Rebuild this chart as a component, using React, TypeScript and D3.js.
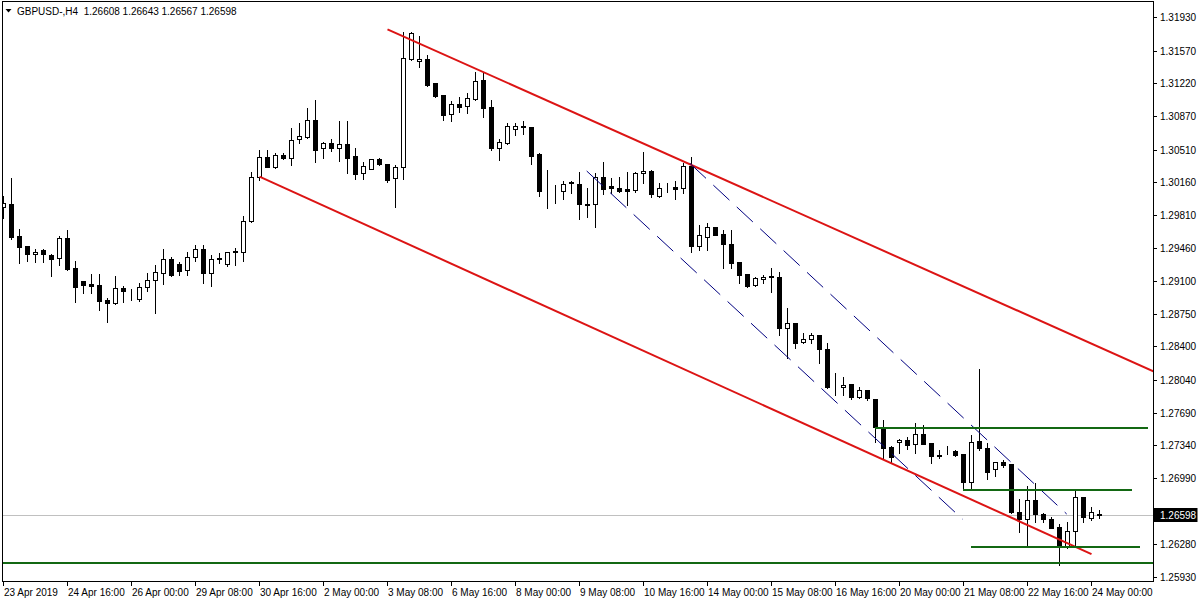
import React, { useEffect, useRef } from "react";
import * as d3 from "d3";

// GBPUSD H4 candles
const opens = [
  1.29891, 1.29926, 1.29584, 1.29473, 1.29387, 1.29434, 1.29380, 1.29345, 1.29562, 1.29241,
  1.29101, 1.29066, 1.29059, 1.28898, 1.28869, 1.29026, 1.28916, 1.28912, 1.29034, 1.29109,
  1.29184, 1.29337, 1.29280, 1.29216, 1.29362, 1.29444, 1.29184, 1.29348, 1.29287, 1.29423,
  1.29415, 1.29739, 1.30219, 1.30427, 1.30320, 1.30451, 1.30416, 1.30620, 1.30641, 1.30826,
  1.30530, 1.30577, 1.30530, 1.30569, 1.30441, 1.30255, 1.30298, 1.30405, 1.30355, 1.30202,
  1.30320, 1.31480, 1.31458, 1.31480, 1.31220, 1.31094, 1.30887, 1.30995, 1.30980, 1.31051,
  1.31255, 1.30962, 1.30530, 1.30583, 1.30727, 1.30762, 1.30748, 1.30462, 1.30076, 1.30076,
  1.30069, 1.30155, 1.30141, 1.29923, 1.29923, 1.30219, 1.30122, 1.30095, 1.30084, 1.30076,
  1.30255, 1.30280, 1.30015, 1.30095, 1.30105, 1.30101, 1.30334, 1.29476, 1.29576, 1.29677,
  1.29605, 1.29498, 1.29302, 1.29176, 1.29059, 1.29120, 1.29147, 1.29147, 1.28595, 1.28648,
  1.28451, 1.28477, 1.28523, 1.28370, 1.27969, 1.27963, 1.27995, 1.27855, 1.27934, 1.27834,
  1.27523, 1.27320, 1.27376, 1.27398, 1.27352, 1.27462, 1.27362, 1.27230, 1.27288, 1.27280,
  1.27248, 1.26951, 1.27387, 1.27309, 1.27084, 1.27162, 1.27138, 1.26630, 1.26555, 1.26755,
  1.26605, 1.26555, 1.26463, 1.26255, 1.26426, 1.26784, 1.26559, 1.26608
];
const highs = [
  1.30012, 1.30202, 1.29659, 1.29473, 1.29441, 1.29447, 1.29387, 1.29584, 1.29648, 1.29316,
  1.29101, 1.29176, 1.29176, 1.28916, 1.29155, 1.29048, 1.29012, 1.29077, 1.29184, 1.29273,
  1.29444, 1.29355, 1.29305, 1.29409, 1.29487, 1.29487, 1.29377, 1.29405, 1.29415, 1.29452,
  1.29798, 1.30264, 1.30505, 1.30505, 1.30473, 1.30470, 1.30737, 1.30791, 1.30952, 1.31041,
  1.30594, 1.30623, 1.30816, 1.30816, 1.30530, 1.30380, 1.30405, 1.30422, 1.30355, 1.30344,
  1.31772, 1.31772, 1.31726, 1.31523, 1.31220, 1.31094, 1.31030, 1.31070, 1.31112, 1.31344,
  1.31344, 1.31041, 1.30623, 1.30791, 1.30791, 1.30816, 1.30748, 1.30473, 1.30291, 1.30130,
  1.30173, 1.30173, 1.30266, 1.30095, 1.30255, 1.30373, 1.30202, 1.30212, 1.30266, 1.30272,
  1.30487, 1.30291, 1.30148, 1.30148, 1.30173, 1.30369, 1.30427, 1.29701, 1.29720, 1.29683,
  1.29648, 1.29648, 1.29302, 1.29176, 1.29147, 1.29166, 1.29237, 1.29201, 1.28815, 1.28648,
  1.28541, 1.28541, 1.28523, 1.28440, 1.28112, 1.28070, 1.27995, 1.27963, 1.27934, 1.27834,
  1.27612, 1.27334, 1.27405, 1.27433, 1.27577, 1.27559, 1.27362, 1.27291, 1.27334, 1.27291,
  1.27248, 1.27451, 1.28155, 1.27369, 1.27165, 1.27184, 1.27138, 1.26763, 1.26905, 1.26940,
  1.26619, 1.26570, 1.26498, 1.26516, 1.26851, 1.26784, 1.26683, 1.26643
];
const lows = [
  1.29773, 1.29548, 1.29291, 1.29319, 1.29308, 1.29308, 1.29155, 1.29273, 1.29219, 1.28880,
  1.28976, 1.28976, 1.28791, 1.28665, 1.28852, 1.28880, 1.28898, 1.28890, 1.28997, 1.28762,
  1.29069, 1.29155, 1.29166, 1.29166, 1.29319, 1.29083, 1.29051, 1.29291, 1.29265, 1.29273,
  1.29319, 1.29737, 1.30184, 1.30326, 1.30312, 1.30405, 1.30344, 1.30583, 1.30630, 1.30380,
  1.30422, 1.30497, 1.30390, 1.30262, 1.30191, 1.30191, 1.30298, 1.30344, 1.30165, 1.29897,
  1.30191, 1.31474, 1.31391, 1.31191, 1.31076, 1.30826, 1.30819, 1.30915, 1.30905, 1.31041,
  1.30862, 1.30505, 1.30398, 1.30569, 1.30666, 1.30676, 1.30360, 1.30017, 1.29880, 1.29934,
  1.29980, 1.30047, 1.29762, 1.29790, 1.29683, 1.30033, 1.30041, 1.30058, 1.29916, 1.30058,
  1.30155, 1.30005, 1.30005, 1.30058, 1.29977, 1.30047, 1.29415, 1.29434, 1.29434, 1.29590,
  1.29244, 1.29237, 1.29077, 1.29040, 1.29048, 1.29077, 1.28987, 1.28523, 1.28273, 1.28380,
  1.28434, 1.28434, 1.28220, 1.27952, 1.27880, 1.27880, 1.27834, 1.27845, 1.27826, 1.27380,
  1.27202, 1.27165, 1.27262, 1.27298, 1.27262, 1.27355, 1.27148, 1.27202, 1.27245, 1.27230,
  1.26862, 1.26862, 1.27291, 1.26977, 1.27012, 1.27112, 1.26613, 1.26415, 1.26255, 1.26523,
  1.26523, 1.26455, 1.26059, 1.26237, 1.26255, 1.26523, 1.26541, 1.26567
];
const closes = [
  1.29934, 1.29576, 1.29469, 1.29387, 1.29415, 1.29387, 1.29340, 1.29559, 1.29230, 1.29034,
  1.29062, 1.29051, 1.28890, 1.28869, 1.29026, 1.28991, 1.28919, 1.29037, 1.29109, 1.29195,
  1.29337, 1.29166, 1.29212, 1.29362, 1.29441, 1.29184, 1.29337, 1.29334, 1.29409, 1.29409,
  1.29739, 1.30219, 1.30427, 1.30326, 1.30451, 1.30422, 1.30612, 1.30655, 1.30826, 1.30505,
  1.30577, 1.30530, 1.30569, 1.30422, 1.30248, 1.30334, 1.30405, 1.30352, 1.30184, 1.30326,
  1.31487, 1.31755, 1.31480, 1.31201, 1.31087, 1.30883, 1.30995, 1.30969, 1.31059, 1.31244,
  1.30958, 1.30530, 1.30587, 1.30762, 1.30762, 1.30748, 1.30437, 1.30069, 1.30073, 1.30076,
  1.30141, 1.30159, 1.29923, 1.29921, 1.30219, 1.30084, 1.30101, 1.30066, 1.30069, 1.30255,
  1.30280, 1.30033, 1.30095, 1.30096, 1.30090, 1.30334, 1.29476, 1.29594, 1.29677, 1.29594,
  1.29498, 1.29291, 1.29166, 1.29048, 1.29134, 1.29147, 1.29150, 1.28595, 1.28648, 1.28440,
  1.28477, 1.28523, 1.28370, 1.27969, 1.27969, 1.27987, 1.27855, 1.27930, 1.27845, 1.27534,
  1.27309, 1.27213, 1.27398, 1.27344, 1.27462, 1.27355, 1.27230, 1.27232, 1.27289, 1.27237,
  1.26951, 1.27376, 1.27309, 1.27058, 1.27162, 1.27127, 1.26630, 1.26555, 1.26755, 1.26605,
  1.26548, 1.26458, 1.26262, 1.26426, 1.26784, 1.26576, 1.26626, 1.26598
];

// one time label every 8 bars
const dateLabels = [
  "23 Apr 2019", "24 Apr 16:00", "26 Apr 00:00", "29 Apr 08:00", "30 Apr 16:00", "2 May 00:00",
  "3 May 08:00", "6 May 16:00", "8 May 00:00", "9 May 08:00", "10 May 16:00", "14 May 00:00",
  "15 May 08:00", "16 May 16:00", "20 May 00:00", "21 May 08:00", "22 May 16:00", "24 May 00:00"
];
const priceTicks = [
  1.31930, 1.31570, 1.31220, 1.30870, 1.30510, 1.30160, 1.29810, 1.29460, 1.29100,
  1.28750, 1.28400, 1.28040, 1.27690, 1.27340, 1.26990, 1.26280, 1.25930
];

const title = "GBPUSD-,H4  1.26608 1.26643 1.26567 1.26598";
const lastPrice = 1.26598;

// drawn objects: [bar, price] pairs
const redLines = [
  [[48, 1.31798], [143.8, 1.28132]],
  [[32, 1.30219], [136, 1.26176]]
];
const blueDashed = [
  [[72.9, 1.30280], [119.9, 1.26548]],
  [[85.8, 1.30362], [132.9, 1.26605]]
];
// [fromBar, toBar, price]; null = whole width
const greenLevels = [
  [109, 143, 1.27530],
  [120, 141, 1.26865],
  [121, 142, 1.26251],
  [null, null, 1.26083]
];

const FONT = "'Liberation Sans', Arial, sans-serif";

export default function App() {
  const ref = useRef<SVGSVGElement>(null);

  useEffect(() => {
    const left = 2, top = 1, right = 1154, bottom = 582;
    const svg = d3.select(ref.current);
    svg.selectAll("*").remove();

    const x = d3.scaleLinear().domain([0, 137]).range([3.5, 3.5 + 137 * 8]);
    const y = d3.scaleLinear().domain([1.25930, 1.31930]).range([577, 17]);

    svg.append("rect").attr("width", 1200).attr("height", 600).attr("fill", "#fff");

    svg.append("clipPath").attr("id", "plot")
      .append("rect")
      .attr("x", left).attr("y", top)
      .attr("width", right - left).attr("height", bottom - top);

    const plot = svg.append("g").attr("clip-path", "url(#plot)");

    // current price line behind candles
    const yLast = Math.round(y(lastPrice)) + 0.5;
    plot.append("line")
      .attr("x1", left).attr("x2", right)
      .attr("y1", yLast).attr("y2", yLast)
      .attr("stroke", "#c0c0c0");

    const bars = d3.range(opens.length);
    const candles = plot.append("g").attr("shape-rendering", "crispEdges");

    candles.selectAll("line.wick")
      .data(bars)
      .join("line")
      .attr("class", "wick")
      .attr("x1", (i) => x(i)).attr("x2", (i) => x(i))
      .attr("y1", (i) => Math.round(y(highs[i])))
      .attr("y2", (i) => Math.round(y(lows[i])) + 1)
      .attr("stroke", "#000");

    candles.selectAll("rect.body")
      .data(bars)
      .join("rect")
      .attr("class", "body")
      .attr("x", (i) => x(i) - 2)
      .attr("y", (i) => Math.round(y(Math.max(opens[i], closes[i]))) + 0.5)
      .attr("width", 4)
      .attr("height", (i) => Math.round(y(Math.min(opens[i], closes[i]))) - Math.round(y(Math.max(opens[i], closes[i]))))
      .attr("fill", (i) => closes[i] >= opens[i] ? "#fff" : "#000")
      .attr("stroke", "#000");

    // objects
    redLines.forEach((l) => {
      plot.append("line")
        .attr("x1", x(l[0][0])).attr("y1", y(l[0][1]))
        .attr("x2", x(l[1][0])).attr("y2", y(l[1][1]))
        .attr("stroke", "#dc1414")
        .attr("stroke-width", 2);
    });

    blueDashed.forEach((l) => {
      plot.append("line")
        .attr("x1", x(l[0][0])).attr("y1", y(l[0][1]))
        .attr("x2", x(l[1][0])).attr("y2", y(l[1][1]))
        .attr("stroke", "#000080")
        .attr("stroke-width", 1)
        .attr("stroke-dasharray", "22 10");
    });

    greenLevels.forEach((g) => {
      const yy = Math.round(y(g[2] as number));
      plot.append("line")
        .attr("x1", g[0] === null ? left : x(g[0] as number) - 0.5)
        .attr("x2", g[1] === null ? right : x(g[1] as number) + 0.5)
        .attr("y1", yy).attr("y2", yy)
        .attr("stroke", "#136813")
        .attr("stroke-width", 2)
        .attr("shape-rendering", "crispEdges");
    });

    // frame
    svg.append("rect")
      .attr("x", left + 0.5).attr("y", top + 0.5)
      .attr("width", right - left - 1).attr("height", bottom - top - 1)
      .attr("fill", "none")
      .attr("stroke", "#000")
      .attr("shape-rendering", "crispEdges");

    // price axis
    const axisY = svg.append("g").attr("font-family", FONT).attr("font-size", 10);
    priceTicks.forEach((t) => {
      const yy = Math.round(y(t)) + 0.5;
      axisY.append("line")
        .attr("x1", right - 0.5).attr("x2", right + 3)
        .attr("y1", yy).attr("y2", yy)
        .attr("stroke", "#000")
        .attr("shape-rendering", "crispEdges");
      axisY.append("text")
        .attr("x", 1160).attr("y", yy)
        .attr("dy", "0.35em")
        .text(t.toFixed(5));
    });

    axisY.append("rect")
      .attr("x", right - 0.5).attr("y", yLast - 7.5)
      .attr("width", 44).attr("height", 14)
      .attr("fill", "#000");
    axisY.append("text")
      .attr("x", 1160).attr("y", yLast)
      .attr("dy", "0.35em")
      .attr("fill", "#fff")
      .text(lastPrice.toFixed(5));

    // time axis
    const axisX = svg.append("g").attr("font-family", FONT).attr("font-size", 10);
    dateLabels.forEach((d, k) => {
      const xx = x(k * 8);
      axisX.append("line")
        .attr("x1", xx).attr("x2", xx)
        .attr("y1", bottom - 1).attr("y2", bottom + 4)
        .attr("stroke", "#000")
        .attr("shape-rendering", "crispEdges");
      axisX.append("text")
        .attr("x", xx + 0.5).attr("y", 596)
        .text(d);
    });

    // title
    svg.append("path")
      .attr("d", "M5.5,9 L11.5,9 L8.5,12.5 Z")
      .attr("fill", "#000");
    svg.append("text")
      .attr("x", 17).attr("y", 15)
      .attr("font-family", FONT)
      .attr("font-size", 10)
      .style("white-space", "pre")
      .text(title);
  }, []);

  return (
    <div style={{ position: "fixed", left: 0, top: 0 }}>
      <svg ref={ref} width={1200} height={600} style={{ display: "block" }} />
    </div>
  );
}
